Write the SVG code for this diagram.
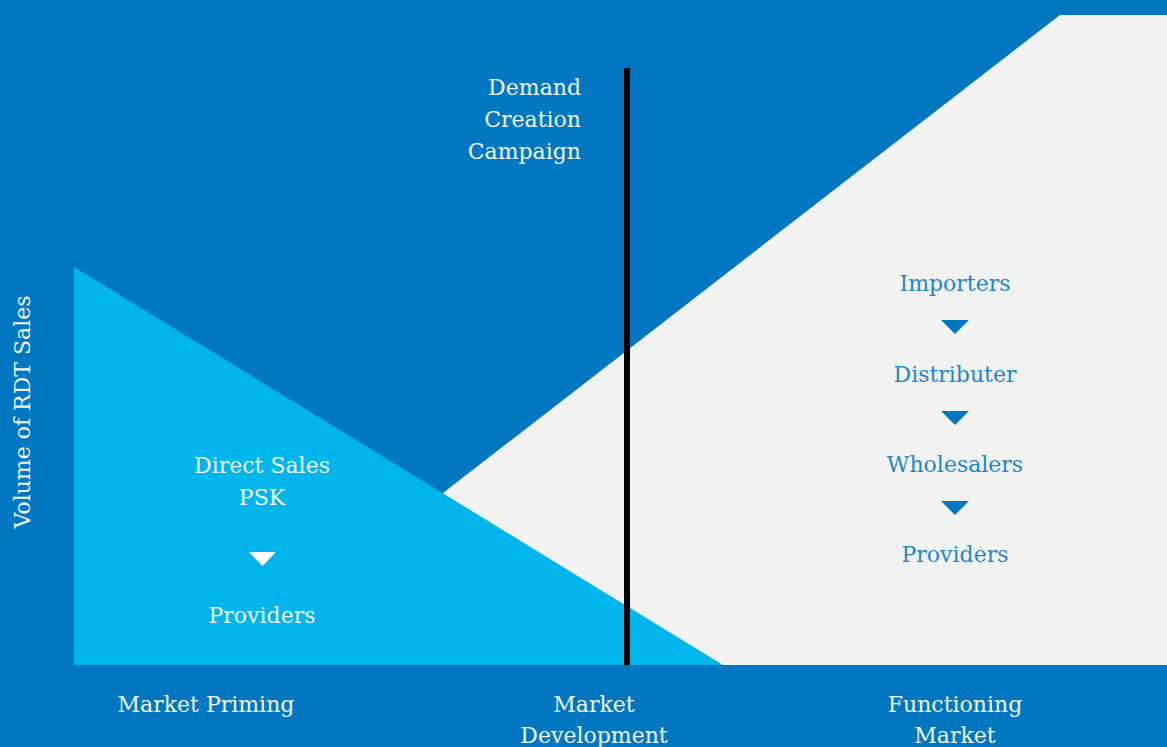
<svg xmlns="http://www.w3.org/2000/svg" width="1167" height="747" viewBox="0 0 1167 747">
<style>
text{font-family:"DejaVu Serif","Liberation Serif",serif;font-size:22px;}
.w{fill:#F2F6FA;}
.b{fill:#1E87C9;}
.c{text-anchor:middle;}
.r{text-anchor:end;}
.tw{fill:#FFFFFF;}
.tb{fill:#0077C0;}
</style>
<rect id="background" x="0" y="0" width="1167" height="747" fill="#0077C0"/>
<polygon id="functioning-area" points="221,665 1060,15 1167,15 1167,665" fill="#F2F2F2"/>
<polygon id="priming-area" points="74,267 74,665 723,665" fill="#00B5EC"/>
<g id="connectors">
<line x1="627" y1="68" x2="627" y2="665" stroke="#000000" stroke-width="6"/>
<polygon class="tw" points="249,552 276,552 262.5,566"/>
<polygon class="tb" points="941,320 969,320 955,334"/>
<polygon class="tb" points="941,411 969,411 955,425"/>
<polygon class="tb" points="941,501 969,501 955,515"/>
</g>
<g id="axis-label"><text class="w c" transform="translate(30,412) rotate(-90)">Volume of RDT Sales</text></g>
<g id="demand-creation"><text class="w r" x="581" y="95">Demand</text><text class="w r" x="581" y="127">Creation</text><text class="w r" x="581" y="159">Campaign</text></g>
<g id="direct-sales"><text class="w c" x="262" y="473">Direct Sales</text><text class="w c" x="262" y="505">PSK</text></g>
<g id="providers-left"><text class="w c" x="262" y="623">Providers</text></g>
<g id="importers"><text class="b c" x="955" y="291">Importers</text></g>
<g id="distributer"><text class="b c" x="955" y="382">Distributer</text></g>
<g id="wholesalers"><text class="b c" x="955" y="472">Wholesalers</text></g>
<g id="providers-right"><text class="b c" x="955" y="562">Providers</text></g>
<g id="market-priming"><text class="w c" x="206" y="712">Market Priming</text></g>
<g id="market-development"><text class="w c" x="594" y="712">Market</text><text class="w c" x="594" y="743">Development</text></g>
<g id="functioning-market"><text class="w c" x="955" y="712">Functioning</text><text class="w c" x="955" y="743">Market</text></g>
</svg>
